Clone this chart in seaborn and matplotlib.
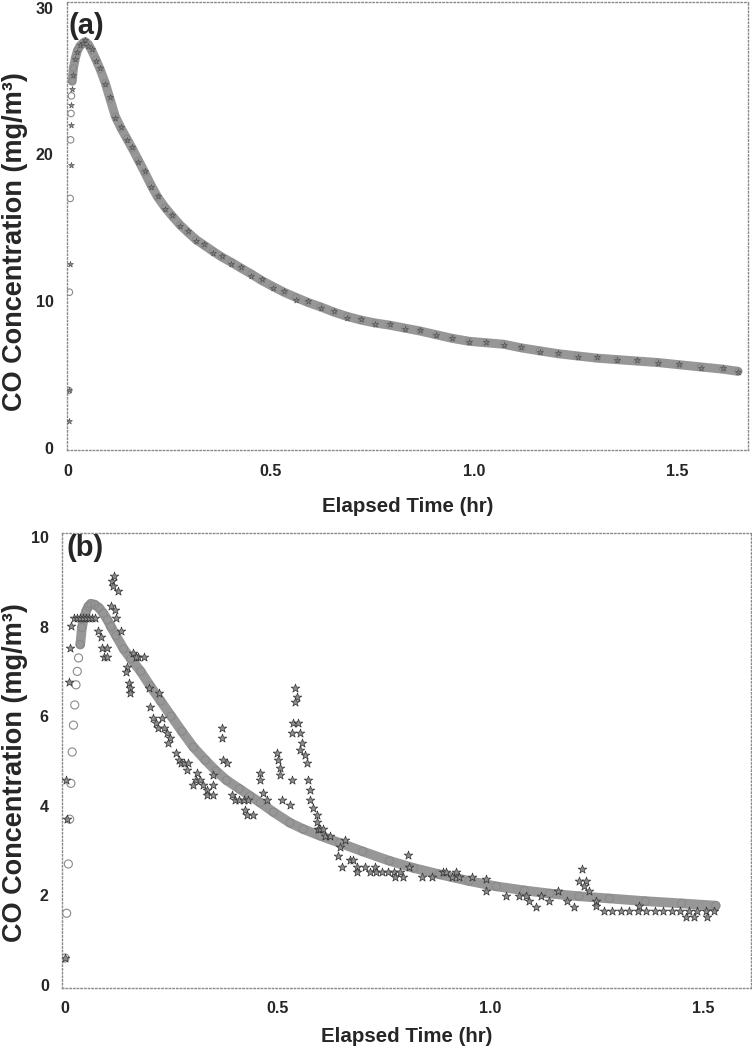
import pandas as pd
import seaborn as sns
import matplotlib.pyplot as plt

# panel (a): model (circles / band) and measured (stars)
time_a = [0.003, 0.005, 0.007, 0.008, 0.009, 0.010, 0.012, 0.015, 0.020, 0.025,
          0.031, 0.038, 0.044, 0.052, 0.060, 0.070, 0.081, 0.093, 0.105, 0.118,
          0.132, 0.146, 0.160, 0.175, 0.190, 0.206, 0.222, 0.240, 0.258, 0.277,
          0.296, 0.316, 0.337, 0.358, 0.380, 0.403, 0.427, 0.452, 0.478, 0.505,
          0.533, 0.562, 0.592, 0.623, 0.655, 0.688, 0.722, 0.757, 0.793, 0.830,
          0.868, 0.907, 0.947, 0.988, 1.030, 1.073, 1.117, 1.162, 1.208, 1.255,
          1.303, 1.352, 1.402, 1.453, 1.505, 1.558, 1.612, 1.650]
model_a = [3.9, 10.6, 17.0, 21.0, 22.8, 24.0, 25.0, 25.9, 26.6, 27.1,
           27.4, 27.6, 27.7, 27.5, 27.1, 26.5, 25.8, 24.9, 23.8, 22.6,
           21.8, 21.1, 20.4, 19.6, 18.8, 17.9, 17.1, 16.4, 15.8, 15.2,
           14.7, 14.2, 13.8, 13.4, 13.0, 12.65, 12.25, 11.85, 11.4, 11.0,
           10.6, 10.25, 9.9, 9.6, 9.25, 8.95, 8.7, 8.5, 8.35, 8.15,
           7.95, 7.7, 7.45, 7.25, 7.15, 7.05, 6.8, 6.6, 6.4, 6.25,
           6.1, 6.0, 5.9, 5.8, 5.65, 5.5, 5.35, 5.2]
meas_a = [1.8, 3.9, 12.5, 19.3, 22.0, 23.4, 24.5, 25.4, 26.5, 27.0,
          27.5, 27.6, 27.8, 27.4, 27.2, 26.4, 25.9, 24.8, 23.9, 22.5,
          21.9, 21.0, 20.5, 19.5, 18.9, 17.8, 17.2, 16.3, 15.9, 15.1,
          14.8, 14.1, 13.9, 13.3, 13.1, 12.5, 12.3, 11.7, 11.5, 10.9,
          10.7, 10.1, 10.0, 9.5, 9.35, 8.85, 8.8, 8.45, 8.4, 8.1,
          8.0, 7.65, 7.5, 7.2, 7.2, 7.0, 6.85, 6.55, 6.45, 6.2,
          6.15, 5.95, 5.95, 5.75, 5.7, 5.45, 5.4, 5.15]

# panel (b): model curve
time_b_model = [0.000, 0.004, 0.008, 0.011, 0.014, 0.017, 0.020, 0.023, 0.026, 0.029,
                0.032, 0.036, 0.040, 0.045, 0.050, 0.055, 0.061, 0.070, 0.080, 0.090,
                0.100, 0.108, 0.120, 0.138, 0.155, 0.178, 0.200, 0.225, 0.250, 0.275,
                0.302, 0.330, 0.355, 0.380, 0.410, 0.435, 0.459, 0.490, 0.529, 0.560,
                0.600, 0.646, 0.700, 0.763, 0.820, 0.880, 0.950, 1.014, 1.080, 1.140,
                1.208, 1.280, 1.365, 1.450, 1.530]
model_b = [0.6, 1.6, 2.7, 3.7, 4.5, 5.2, 5.8, 6.25, 6.7, 7.0,
           7.3, 7.6, 7.98, 8.2, 8.35, 8.45, 8.51, 8.49, 8.42, 8.3,
           8.15, 8.0, 7.8, 7.5, 7.28, 7.0, 6.68, 6.34, 6.0, 5.66,
           5.31, 5.02, 4.78, 4.57, 4.38, 4.22, 4.07, 3.86, 3.62, 3.48,
           3.33, 3.17, 2.98, 2.77, 2.61, 2.47, 2.32, 2.2, 2.11, 2.04,
           1.98, 1.93, 1.87, 1.82, 1.77]

# panel (b): measured values
time_b_meas = [0.001, 0.004, 0.003, 0.009, 0.012, 0.014,
               0.021, 0.028, 0.035, 0.042, 0.049, 0.056, 0.063, 0.070,
               0.077, 0.084, 0.088, 0.100, 0.092, 0.100,
               0.108, 0.110, 0.112, 0.115, 0.118, 0.119, 0.124, 0.131,
               0.147, 0.143, 0.150, 0.152, 0.152,
               0.160, 0.172, 0.185, 0.166,
               0.197, 0.220, 0.201, 0.206, 0.213, 0.229, 0.218, 0.232, 0.241, 0.248, 0.243,
               0.260, 0.267, 0.272, 0.281, 0.290, 0.288, 0.311, 0.307, 0.318, 0.302,
               0.325, 0.335, 0.335, 0.349, 0.349, 0.347,
               0.370, 0.370, 0.372, 0.382,
               0.393, 0.400, 0.410, 0.420, 0.430, 0.424, 0.428, 0.443,
               0.459, 0.459, 0.466, 0.475,
               0.499, 0.501, 0.506, 0.506,
               0.510, 0.529, 0.534,
               0.541, 0.546, 0.541, 0.536, 0.548, 0.534, 0.553, 0.557, 0.553, 0.564,
               0.569, 0.571, 0.576, 0.576, 0.583, 0.592, 0.593,
               0.595, 0.600, 0.607, 0.611, 0.623, 0.658, 0.646, 0.642, 0.651, 0.670, 0.677,
               0.686, 0.705, 0.728, 0.686, 0.717, 0.731, 0.745, 0.759, 0.773, 0.787,
               0.775, 0.794, 0.806, 0.810, 0.840, 0.864, 0.888, 0.897, 0.920, 0.910,
               0.927, 0.958,
               0.990, 0.990, 1.037, 1.067, 1.084, 1.091, 1.108, 1.120, 1.138, 1.160,
               1.180, 1.197,
               1.215, 1.208, 1.225, 1.220, 1.232, 1.248, 1.248,
               1.267, 1.287, 1.307, 1.327, 1.347, 1.367, 1.387, 1.407, 1.427, 1.447,
               1.467, 1.487, 1.507, 1.527,
               1.349, 1.460, 1.480, 1.510]
meas_b = [0.6, 3.7, 4.58, 6.76, 7.53, 8.02,
          8.2, 8.2, 8.2, 8.2, 8.2, 8.2, 8.2, 8.2,
          7.91, 7.76, 7.53, 7.53, 7.31, 7.31,
          8.47, 9.02, 8.9, 9.13, 8.36, 8.2, 8.8, 7.91,
          7.09, 6.98, 6.73, 6.62, 6.51,
          7.42, 7.31, 7.31, 7.31,
          6.62, 6.51, 6.2, 5.96, 5.84, 5.96, 5.73, 5.73, 5.62, 5.51, 5.4,
          5.18, 5.02, 4.96, 4.96, 4.96, 4.8, 4.73, 4.58, 4.58, 4.47,
          4.47, 4.36, 4.24, 4.24, 4.47, 4.69,
          5.73, 5.51, 5.02, 4.96,
          4.24, 4.13, 4.13, 4.13, 4.13, 3.91, 3.8, 3.8,
          4.73, 4.58, 4.29, 4.13,
          5.18, 5.02, 4.84, 4.69,
          4.13, 4.02, 4.58,
          6.64, 6.42, 6.31, 5.84, 5.84, 5.62, 5.62, 5.4, 5.24, 5.13,
          4.96, 4.58, 4.36, 4.13, 3.96, 3.8, 3.64,
          3.47, 3.47, 3.47, 3.33, 3.33, 3.24, 3.09, 2.87, 2.64, 2.8, 2.8,
          2.64, 2.64, 2.64, 2.53, 2.53, 2.53, 2.53, 2.53, 2.53, 2.53,
          2.42, 2.42, 2.89, 2.64, 2.42, 2.42, 2.53, 2.53, 2.53, 2.42,
          2.42, 2.42,
          2.09, 2.36, 1.98, 1.98, 1.98, 1.87, 1.73, 1.98, 1.87, 2.09,
          1.87, 1.73,
          2.58, 2.31, 2.31, 2.2, 2.09, 1.87, 1.76,
          1.64, 1.64, 1.64, 1.64, 1.64, 1.64, 1.64, 1.64, 1.64, 1.64,
          1.64, 1.64, 1.64, 1.64,
          1.76, 1.51, 1.51, 1.51]

sns.set_style("white")
plt.rcParams["font.family"] = ["Liberation Sans", "DejaVu Sans"]
plt.rcParams["font.weight"] = "bold"

df_a = pd.DataFrame({"t": time_a, "model": model_a, "meas": meas_a})
df_bm = pd.DataFrame({"t": time_b_model, "model": model_b})
df_bs = pd.DataFrame({"t": time_b_meas, "meas": meas_b})

fig = plt.figure(figsize=(7.52, 10.5), dpi=100)
ax1 = fig.add_axes([0.089, 0.571, 0.906, 0.427])
ax2 = fig.add_axes([0.0824, 0.059, 0.9163, 0.4334])

band = "#979797"
star_face = "#8e8e8e"
star_edge = "#333333"


def style_axes(ax):
    for s in ax.spines.values():
        s.set_linestyle(":")
        s.set_color("#8a8a8a")
        s.set_linewidth(1.0)
    ax.tick_params(axis="both", length=2.5, width=0.8, color="#9a9a9a",
                   labelsize=11.5, pad=7)
    for lab in ax.get_xticklabels() + ax.get_yticklabels():
        lab.set_fontweight("bold")


# (a)
sns.lineplot(data=df_a[df_a["t"] >= 0.012], x="t", y="model", ax=ax1,
             color=band, linewidth=6.5, zorder=2)
sns.scatterplot(data=df_a, x="t", y="model", ax=ax1, marker="o", s=22,
                facecolor="none", edgecolor="#8a8a8a", linewidth=0.8, zorder=3)
sns.scatterplot(data=df_a, x="t", y="meas", ax=ax1, marker="*", s=20,
                color="#858585", edgecolor="#4a4a4a", linewidth=0.4, zorder=4)
ax1.set_xlim(-0.001, 1.675)
ax1.set_ylim(-0.2, 30.4)
ax1.set_xticks([0, 0.5, 1.0, 1.5])
ax1.set_xticklabels(["0", "0.5", "1.0", "1.5"])
ax1.set_yticks([0, 10, 20, 30])
ax1.set_xlabel("Elapsed Time (hr)", fontsize=14.8, fontweight="bold", labelpad=13)
ax1.set_ylabel("CO Concentration (mg/m³)", fontsize=19.5, fontweight="bold")
ax1.text(0.003, 0.978, "(a)", transform=ax1.transAxes, ha="left", va="top",
         fontsize=21, fontweight="bold")
style_axes(ax1)
ax1.yaxis.set_label_coords(0.037, 0.770, transform=fig.transFigure)

# (b)
sns.lineplot(data=df_bm[df_bm["t"] >= 0.036], x="t", y="model", ax=ax2,
             color=band, linewidth=7, zorder=2)
sns.scatterplot(data=df_bm, x="t", y="model", ax=ax2, marker="o", s=34,
                facecolor="none", edgecolor="#8a8a8a", linewidth=0.8, zorder=3)
sns.scatterplot(data=df_bs, x="t", y="meas", ax=ax2, marker="*", s=42,
                color=star_face, edgecolor=star_edge, linewidth=0.5, zorder=4)
ax2.set_xlim(-0.007, 1.613)
ax2.set_ylim(-0.07, 10.09)
ax2.set_xticks([0, 0.5, 1.0, 1.5])
ax2.set_xticklabels(["0", "0.5", "1.0", "1.5"])
ax2.set_yticks([0, 2, 4, 6, 8, 10])
ax2.set_xlabel("Elapsed Time (hr)", fontsize=14.8, fontweight="bold", labelpad=8)
ax2.set_ylabel("CO Concentration (mg/m³)", fontsize=19.5, fontweight="bold")
ax2.text(0.007, 0.997, "(b)", transform=ax2.transAxes, ha="left", va="top",
         fontsize=21, fontweight="bold")
style_axes(ax2)
ax2.yaxis.set_label_coords(0.037, 0.264, transform=fig.transFigure)

fig.savefig("out.png", dpi=100)
